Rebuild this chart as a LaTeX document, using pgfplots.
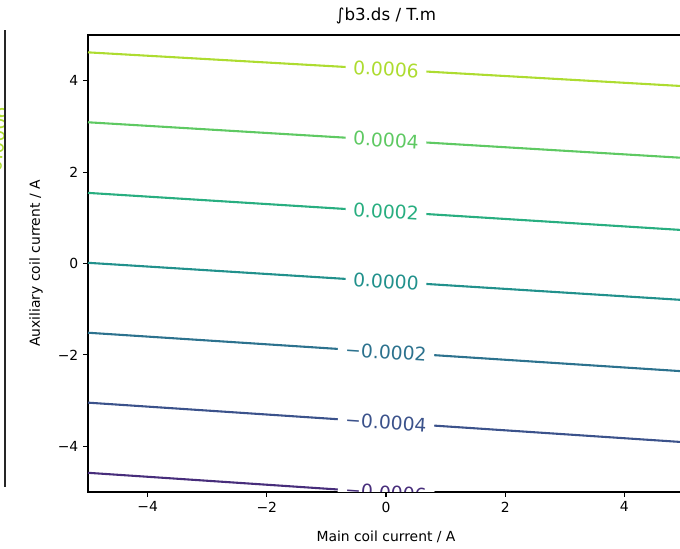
\documentclass[border=0pt]{standalone}
\usepackage{fontspec}
\setmainfont{DejaVu Sans}
\usepackage{pgfplots}
\pgfplotsset{compat=1.18}

% viridis levels
\definecolor{vA}{HTML}{472D7B}
\definecolor{vB}{HTML}{3B528B}
\definecolor{vC}{HTML}{2C728E}
\definecolor{vD}{HTML}{21918C}
\definecolor{vE}{HTML}{28AE80}
\definecolor{vF}{HTML}{5EC962}
\definecolor{vG}{HTML}{ADDC30}

\tikzset{
  clab/.style={pos=0.5, sloped, fill=white, inner xsep=5.5pt, inner ysep=1pt,
    font=\fontsize{13.5}{16}\selectfont},
}

\begin{document}
\begin{tikzpicture}
% page = 680x549 px at 0.72pt/px, axis box starts at px (88,492)
\useasboundingbox (-63.36pt,-41.04pt) rectangle (426.24pt,354.24pt);

% leftover edge of the neighbouring panel
\draw[line width=0.8pt, black!85] (-59.76pt,3.6pt) -- (-59.76pt,332.64pt);
\begin{scope}
  \clip (-63.36pt,0pt) rectangle (-60.6pt,329pt);
  \node[rotate=85, text=vG, font=\fontsize{13.5}{16}\selectfont] at (-65pt,254pt) {0.0006};
\end{scope}

\begin{axis}[
  at={(0,0)}, anchor=south west,
  scale only axis, width=429.12pt, height=329.04pt,
  xmin=-5, xmax=5, ymin=-5, ymax=5,
  xtick={-4,-2,0,2,4}, xticklabels={−4,−2,0,2,4},
  ytick={-4,-2,0,2,4}, yticklabels={−4,−2,0,2,4},
  tick align=outside, tick pos=left,
  major tick length=3.5pt,
  every tick/.style={black, line width=0.8pt},
  axis line style={line width=0.8pt},
  tick label style={font=\fontsize{10}{12}\selectfont},
  label style={font=\fontsize{10}{12}\selectfont},
  xlabel style={yshift=-6.5pt},
  ylabel style={yshift=4pt},
  title style={font=\fontsize{12}{14}\selectfont, yshift=-2pt},
  title={∫b3.ds / T.m},
  xlabel={Main coil current / A},
  ylabel={Auxiliary coil current / A},
  clip=true,
]
\addplot[vG, line width=1.5pt] coordinates {(-5,4.62) (5,3.88)}
  node[clab, text=vG] {0.0006};
\addplot[vF, line width=1.5pt] coordinates {(-5,3.09) (5,2.31)}
  node[clab, text=vF] {0.0004};
\addplot[vE, line width=1.5pt] coordinates {(-5,1.545) (5,0.73)}
  node[clab, text=vE] {0.0002};
\addplot[vD, line width=1.5pt] coordinates {(-5,0.015) (5,-0.80)}
  node[clab, text=vD] {0.0000};
\addplot[vC, line width=1.5pt] coordinates {(-5,-1.515) (5,-2.36)}
  node[clab, text=vC] {−0.0002};
\addplot[vB, line width=1.5pt] coordinates {(-5,-3.045) (5,-3.91)}
  node[clab, text=vB] {−0.0004};
\addplot[vA, line width=1.5pt] coordinates {(-5,-4.58) (5,-5.45)}
  node[clab, text=vA] {−0.0006};
\end{axis}
\end{tikzpicture}
\end{document}
